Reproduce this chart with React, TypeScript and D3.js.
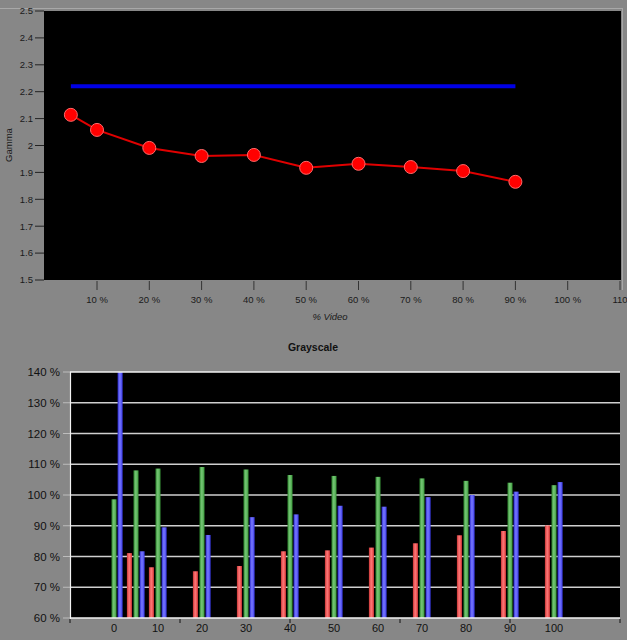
import React from "react";
import * as d3 from "d3";

// ---- Gamma chart data ----
const gammaX = [5, 10, 20, 30, 40, 50, 60, 70, 80, 90];
const gammaY = [2.114, 2.058, 1.991, 1.961, 1.965, 1.917, 1.932, 1.92, 1.905, 1.865];
const gammaTarget = 2.22;
const gammaTargetRange = [5, 90];
const gammaYTicks = [1.5, 1.6, 1.7, 1.8, 1.9, 2.0, 2.1, 2.2, 2.3, 2.4, 2.5];
const gammaXTicks = [10, 20, 30, 40, 50, 60, 70, 80, 90, 100, 110];

// ---- Grayscale chart data ----
const grayLevels = [0, 5, 10, 20, 30, 40, 50, 60, 70, 80, 90, 100];
const redVals = [55, 81.1, 76.5, 75.2, 76.9, 81.7, 82.0, 82.9, 84.3, 86.9, 88.3, 90.1];
const greenVals = [98.6, 108.0, 108.6, 109.1, 108.3, 106.5, 106.2, 105.9, 105.4, 104.6, 104.0, 103.2];
const blueVals = [150, 81.7, 89.5, 87.0, 92.8, 93.7, 96.5, 96.2, 99.3, 100.0, 101.1, 104.2];
const grayXLabels = [0, 10, 20, 30, 40, 50, 60, 70, 80, 90, 100];
const grayXMinorTicks = [-10, 15, 40, 65, 90, 115];
const grayYTicks = [60, 70, 80, 90, 100, 110, 120, 130, 140];

const FONT = "'Liberation Sans', Arial, sans-serif";
const BG = "#878787";

export default function App() {
  // top chart scales
  const gx = d3.scaleLinear().domain([0, 110]).range([44.7, 620]);
  const gy = d3.scaleLinear().domain([1.5, 2.5]).range([280, 11]);
  const pts = gammaX.map((x, i) => [gx(x), gy(gammaY[i])] as [number, number]);
  const linePath = d3.line()(pts) || "";

  // bottom chart scales
  const bx = d3.scaleLinear().domain([-10, 115]).range([70, 620]);
  const by = d3.scaleLinear().domain([60, 140]).range([618, 372]);
  const barW = 5;
  const series = [
    { vals: redVals, off: -6.6, grad: "gR" },
    { vals: greenVals, off: 0, grad: "gG" },
    { vals: blueVals, off: 6.1, grad: "gB" },
  ];

  return (
    <svg
      width={627}
      height={640}
      style={{ position: "absolute", left: 0, top: 0, display: "block" }}
      fontFamily={FONT}
    >
      <defs>
        <linearGradient id="gR" x1="0" x2="1" y1="0" y2="0">
          <stop offset="0" stopColor="#c83232" />
          <stop offset="0.45" stopColor="#ff7a7a" />
          <stop offset="1" stopColor="#e03c3c" />
        </linearGradient>
        <linearGradient id="gG" x1="0" x2="1" y1="0" y2="0">
          <stop offset="0" stopColor="#2f8a2f" />
          <stop offset="0.45" stopColor="#78c878" />
          <stop offset="1" stopColor="#3a9a3a" />
        </linearGradient>
        <linearGradient id="gB" x1="0" x2="1" y1="0" y2="0">
          <stop offset="0" stopColor="#2a2ad0" />
          <stop offset="0.45" stopColor="#7a7aff" />
          <stop offset="1" stopColor="#3a3ae8" />
        </linearGradient>
        <clipPath id="botClip">
          <rect x={70} y={372} width={550} height={246} />
        </clipPath>
      </defs>
      <rect x={0} y={0} width={627} height={640} fill={BG} />
      {/* top frame */}
      <line x1={0} x2={623} y1={8.5} y2={8.5} stroke="#a8a8a8" strokeWidth={1} />
      <line x1={622.5} x2={622.5} y1={8.5} y2={290} stroke="#a8a8a8" strokeWidth={1} />

      {/* ---- Gamma chart ---- */}
      <rect x={44} y={11} width={577} height={269} fill="#000" />
      {gammaYTicks.map((t) => (
        <g key={"gyt" + t}>
          <line x1={35} x2={44} y1={gy(t)} y2={gy(t)} stroke="#222" strokeWidth={1} />
          <text x={33} y={gy(t)} dy="0.35em" textAnchor="end" fontSize={9.5} fill="#1a1a1a">
            {d3.format("")(+t.toFixed(1))}
          </text>
        </g>
      ))}
      {gammaXTicks.map((t) => (
        <g key={"gxt" + t}>
          <line x1={gx(t)} x2={gx(t)} y1={281} y2={290} stroke="#333" strokeWidth={1} />
          <text x={gx(t)} y={303} textAnchor="middle" fontSize={9.5} fill="#1a1a1a">
            {t === 110 ? "110" : `${t} %`}
          </text>
        </g>
      ))}
      <text
        transform={`translate(12,145) rotate(-90)`}
        textAnchor="middle"
        fontSize={9.5}
        fill="#1a1a1a"
      >
        Gamma
      </text>
      <text x={330} y={320} textAnchor="middle" fontSize={9.5} fontStyle="italic" fill="#1a1a1a">
        % Video
      </text>
      <line
        x1={gx(gammaTargetRange[0])}
        x2={gx(gammaTargetRange[1])}
        y1={gy(gammaTarget)}
        y2={gy(gammaTarget)}
        stroke="#0000e6"
        strokeWidth={4}
      />
      <path d={linePath} fill="none" stroke="#e00000" strokeWidth={2} />
      {pts.map((p, i) => (
        <circle key={"pt" + i} cx={p[0]} cy={p[1]} r={6.5} fill="#ff0000" stroke="#ff6a6a" strokeWidth={1} />
      ))}

      {/* ---- Grayscale chart ---- */}
      <text x={313} y={351} textAnchor="middle" fontSize={10.5} fontWeight="bold" fill="#111">
        Grayscale
      </text>
      <rect x={70} y={372} width={550} height={246} fill="#000" />
      {grayYTicks.map((t) => (
        <g key={"byt" + t}>
          {t > 60 && t < 140 && (
            <line x1={70} x2={620} y1={by(t)} y2={by(t)} stroke="#cfcfcf" strokeWidth={1.6} />
          )}
          <line x1={63} x2={70} y1={by(t)} y2={by(t)} stroke="#bdbdbd" strokeWidth={1} />
          <text x={60} y={by(t)} dy="0.35em" textAnchor="end" fontSize={11.5} fill="#111">
            {`${t} %`}
          </text>
        </g>
      ))}
      <g clipPath="url(#botClip)">
        {series.map((s) =>
          grayLevels.map((lv, i) => {
            const v = s.vals[i];
            const y0 = by(60);
            const y1 = by(Math.min(v, 145));
            if (v <= 60) return null;
            return (
              <rect
                key={s.grad + lv}
                x={bx(lv) + s.off - barW / 2}
                y={y1}
                width={barW}
                height={y0 - y1}
                fill={`url(#${s.grad})`}
              />
            );
          })
        )}
      </g>
      {/* borders */}
      <line x1={70} x2={620} y1={372} y2={372} stroke="#f2f2f2" strokeWidth={1.6} />
      <line x1={70.5} x2={70.5} y1={372} y2={619} stroke="#f2f2f2" strokeWidth={1.2} />
      <line x1={70} x2={620} y1={618} y2={618} stroke="#f2f2f2" strokeWidth={1.6} />
      {grayXMinorTicks.map((t) => (
        <line key={"mt" + t} x1={bx(t)} x2={bx(t)} y1={619} y2={623} stroke="#111" strokeWidth={1} />
      ))}
      {grayXLabels.map((t) => (
        <text key={"bxl" + t} x={bx(t)} y={632} textAnchor="middle" fontSize={11} fill="#111">
          {t}
        </text>
      ))}
    </svg>
  );
}
